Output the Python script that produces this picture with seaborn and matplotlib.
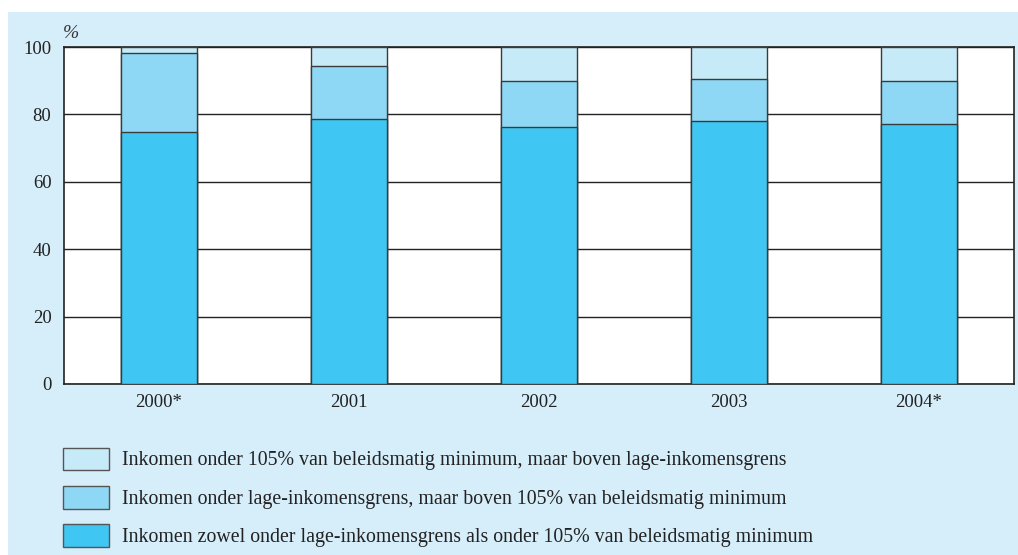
import matplotlib
matplotlib.use("Agg")
import matplotlib.pyplot as plt
from matplotlib.patches import Patch, Rectangle
import seaborn as sns
import pandas as pd

# data (percentages)
years = ["2000*", "2001", "2002", "2003", "2004*"]
beide = [74.8, 78.6, 76.4, 77.9, 77.1]        # onder lage-inkomensgrens en onder 105% minimum
lage_only = [23.5, 15.7, 13.4, 12.7, 12.8]    # onder lage-inkomensgrens, boven 105% minimum
min_only = [1.7, 5.7, 10.2, 9.4, 10.1]        # onder 105% minimum, boven lage-inkomensgrens

labels = [
    "Inkomen onder 105% van beleidsmatig minimum, maar boven lage-inkomensgrens",
    "Inkomen onder lage-inkomensgrens, maar boven 105% van beleidsmatig minimum",
    "Inkomen zowel onder lage-inkomensgrens als onder 105% van beleidsmatig minimum",
]
colors = ["#C7EAF8", "#8FD8F5", "#40C6F2"]

df = pd.DataFrame({"jaar": years, "beide": beide, "lage": lage_only, "min": min_only})
df["cum_lage"] = df["beide"] + df["lage"]
df["cum_min"] = df["cum_lage"] + df["min"]

sns.set_style("white")
plt.rcParams["font.family"] = ["Liberation Serif", "DejaVu Serif"]

fig = plt.figure(figsize=(10.18, 5.55), dpi=100)
fig.patch.set_facecolor("white")
# light blue panel behind everything
fig.add_artist(Rectangle((8 / 1018, 0), 1, (555 - 12) / 555, transform=fig.transFigure,
                         facecolor="#D6EDFA", edgecolor="none", zorder=-10))

ax = fig.add_axes([64 / 1018, (555 - 384) / 555, 950 / 1018, 337 / 555])
ax.set_facecolor("white")

# stacked bars: draw cumulative heights from top down
for col, c in zip(["cum_min", "cum_lage", "beide"], colors):
    sns.barplot(data=df, x="jaar", y=col, color=c, saturation=1, width=0.4,
                edgecolor="#3a3a3a", linewidth=1, ax=ax, zorder=3)

ax.set_ylim(0, 100)
ax.set_yticks([0, 20, 40, 60, 80, 100])
ax.yaxis.grid(True, color="#222222", linewidth=1)
ax.set_axisbelow(True)
ax.set_xlabel("")
ax.set_ylabel("")
ax.tick_params(axis="both", length=0, labelsize=13.5, colors="#222222")
ax.tick_params(axis="y", pad=9)
ax.tick_params(axis="x", pad=7)
for s in ax.spines.values():
    s.set_visible(True)
    s.set_color("#222222")
    s.set_linewidth(1.2)

fig.text(63 / 1018, 1 - 33 / 555, "%", fontsize=14, style="italic", color="#333333",
         ha="left", va="center")

handles = [Patch(facecolor=c, edgecolor="#555555", linewidth=1) for c in colors]
fig.legend(handles, labels, loc="upper left", bbox_to_anchor=(63 / 1018, 1 - 447.5 / 555),
           frameon=False, fontsize=14.3, handlelength=2.3, handleheight=1.38,
           handletextpad=0.65, labelspacing=0.78, borderpad=0, borderaxespad=0,
           labelcolor="#222222")

fig.savefig("out.png", dpi=100)
